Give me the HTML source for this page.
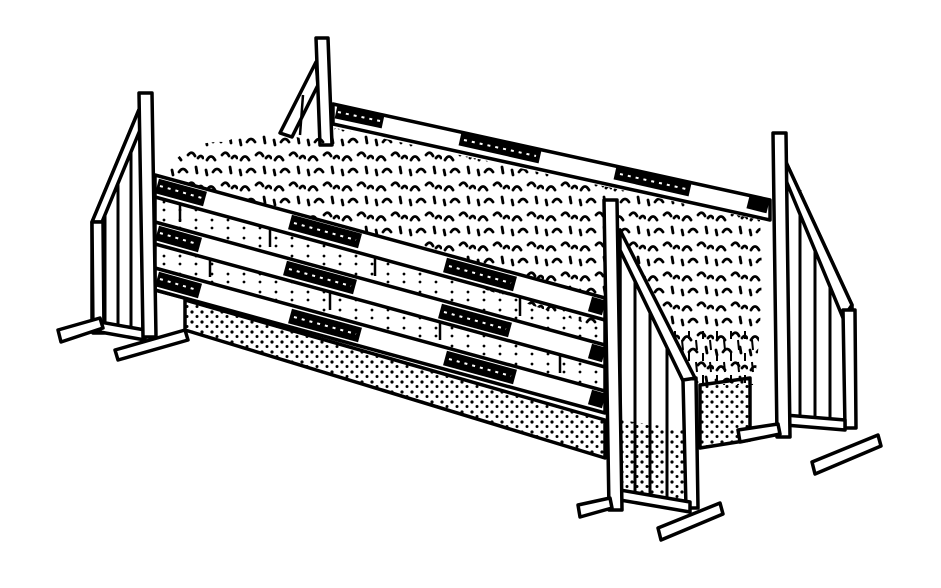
<!DOCTYPE html>
<html><head><style>html,body{margin:0;padding:0;background:#fff;}svg{display:block}</style></head>
<body>
<svg width="941" height="588" viewBox="0 0 941 588" xmlns="http://www.w3.org/2000/svg">
<defs>
<pattern id="dots" width="10" height="10" patternUnits="userSpaceOnUse">
<circle cx="2" cy="2" r="1.6" fill="#000"/><circle cx="7" cy="6.5" r="1.5" fill="#000"/>
</pattern>
<pattern id="brush" width="34" height="30" patternUnits="userSpaceOnUse">
<path d="M3 10 q4 -7 8 0 M18 5 q4 -5 7 1 M9 22 q4 -6 8 0 M26 17 l1 6 M2 20 l1 5 M28 8 q3 -4 5 0" stroke="#000" stroke-width="2.8" fill="none" stroke-linecap="round"/>
</pattern>
<pattern id="twig" width="14" height="22" patternUnits="userSpaceOnUse">
<path d="M3 1 l0 8 M10 10 l1 10" stroke="#000" stroke-width="2"/>
</pattern>
<pattern id="pl" width="16" height="18" patternUnits="userSpaceOnUse">
<circle cx="4" cy="4" r="1.4" fill="#000"/><circle cx="4" cy="12" r="1.4" fill="#000"/>
</pattern>
</defs>
<g stroke="#000" stroke-width="3.5" stroke-linejoin="round" fill="#fff">
<!-- back-left standard -->
<polygon points="316,62 280,133 292,137 318,85" />
<line x1="303" y1="95" x2="300" y2="135" stroke-width="2.5"/>
<polygon points="316,38 328,38 332,145 320,145"/>
<!-- brush -->
<path d="M165,178 Q180,140 225,142 Q260,125 300,138 Q330,140 335,128 L760,220 Q765,300 755,380 L700,385 L605,330 L155,178 Z" fill="url(#brush)" stroke="none"/>
<polygon points="640,330 755,330 755,385 700,385 640,400" fill="url(#twig)" stroke="none"/>
<!-- back rail -->
<polygon points="333,104 770,200 770,220 333,124" />
<g stroke-width="13" fill="none">
<line x1="336" y1="112" x2="383" y2="122"/><line x1="460" y1="139" x2="540" y2="157"/><line x1="615" y1="173" x2="690" y2="190"/><line x1="748" y1="202" x2="768" y2="207"/>
</g>
<g stroke="#fff" stroke-width="2" stroke-dasharray="3 5" fill="none">
<line x1="338" y1="112" x2="380" y2="121"/><line x1="464" y1="140" x2="536" y2="156"/><line x1="620" y1="174" x2="686" y2="189"/>
</g>
<!-- right box -->
<polygon points="700,385 750,378 750,440 700,448" fill="url(#dots)"/>
<!-- bottom box -->
<polygon points="185,300 605,420 605,458 185,330" fill="url(#dots)"/>
<!-- planks -->
<polygon points="155,195 605,318 605,410 155,290" fill="url(#pl)"/>
<g stroke-width="2.5">
<line x1="180" y1="202" x2="180" y2="222"/><line x1="270" y1="227" x2="270" y2="247"/><line x1="375" y1="256" x2="375" y2="276"/><line x1="520" y1="296" x2="520" y2="316"/>
<line x1="210" y1="257" x2="210" y2="277"/><line x1="330" y1="290" x2="330" y2="310"/><line x1="440" y1="320" x2="440" y2="340"/><line x1="560" y1="353" x2="560" y2="373"/>
</g>
<!-- rails -->
<polygon points="155,175 605,298 605,320 155,197" />
<polygon points="155,222 605,345 605,367 155,244" />
<polygon points="155,268 605,391 605,413 155,290" />
<g stroke-width="15" fill="none">
<line x1="157" y1="186" x2="205" y2="199"/><line x1="290" y1="222" x2="360" y2="241"/><line x1="445" y1="265" x2="515" y2="284"/><line x1="590" y1="304" x2="604" y2="308"/>
<line x1="157" y1="233" x2="200" y2="245"/><line x1="285" y1="268" x2="355" y2="287"/><line x1="440" y1="311" x2="510" y2="330"/><line x1="590" y1="351" x2="604" y2="355"/>
<line x1="157" y1="279" x2="200" y2="291"/><line x1="290" y1="316" x2="360" y2="335"/><line x1="445" y1="358" x2="515" y2="377"/><line x1="590" y1="397" x2="604" y2="401"/>
</g>
<g stroke="#fff" stroke-width="2" stroke-dasharray="3 5" fill="none">
<line x1="160" y1="186" x2="202" y2="198"/><line x1="294" y1="223" x2="356" y2="240"/><line x1="449" y1="266" x2="511" y2="283"/>
<line x1="160" y1="233" x2="197" y2="244"/><line x1="289" y1="269" x2="351" y2="286"/><line x1="444" y1="312" x2="506" y2="329"/>
<line x1="160" y1="279" x2="197" y2="290"/><line x1="294" y1="317" x2="356" y2="334"/><line x1="449" y1="359" x2="511" y2="376"/>
</g>
<!-- left front standard -->
<polygon points="143,100 92,222 92,332 143,330"/>
<g stroke-width="3"><line x1="105" y1="205" x2="105" y2="330"/><line x1="118" y1="175" x2="118" y2="330"/><line x1="131" y1="140" x2="131" y2="330"/></g>
<polygon points="143,100 145,118 102,222 92,222"/>
<polygon points="92,222 103,222 104,333 93,333"/>
<polygon points="100,322 145,330 145,340 100,332"/>
<polygon points="139,93 152,93 156,337 143,337"/>
<polygon points="58,330 100,318 103,328 61,342"/>
<polygon points="115,350 185,330 188,340 118,360"/>
<!-- back-right standard -->
<polygon points="785,160 852,305 855,425 785,425"/>
<g stroke-width="3"><line x1="800" y1="190" x2="800" y2="422"/><line x1="815" y1="225" x2="815" y2="422"/><line x1="830" y1="258" x2="830" y2="422"/></g>
<polygon points="785,160 785,178 843,318 852,305"/>
<polygon points="843,310 855,310 856,428 845,428"/>
<polygon points="785,415 845,420 845,430 785,425"/>
<polygon points="773,133 786,133 790,437 777,437"/>
<polygon points="738,430 778,424 780,434 740,442"/>
<polygon points="812,462 878,435 881,446 815,474"/>
<!-- front-right standard -->
<polygon points="620,230 690,378 695,505 620,500" fill="#fff"/>
<polygon points="620,420 690,430 692,500 620,495" fill="url(#dots)" stroke="none"/>
<g stroke-width="3"><line x1="635" y1="270" x2="635" y2="495"/><line x1="650" y1="300" x2="650" y2="498"/><line x1="667" y1="335" x2="667" y2="500"/></g>
<polygon points="620,230 620,250 685,385 695,378"/>
<polygon points="683,380 696,378 698,508 686,508"/>
<polygon points="620,490 690,502 690,512 620,500"/>
<polygon points="604,200 617,200 622,510 609,510"/>
<polygon points="578,505 610,498 612,508 580,517"/>
<polygon points="658,528 720,503 723,514 661,540"/>
</g>
</svg>
</body></html>
